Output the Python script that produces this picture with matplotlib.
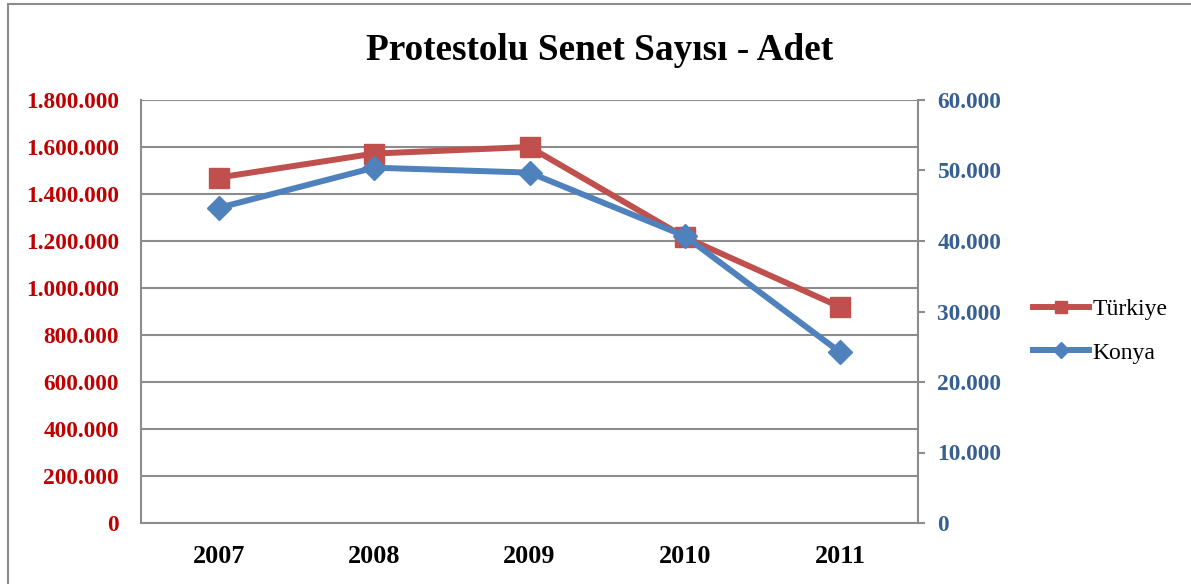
import matplotlib
matplotlib.use("Agg")
import matplotlib.pyplot as plt
from matplotlib.patches import Rectangle
from matplotlib.ticker import FuncFormatter, MultipleLocator

# Protested promissory notes, counts per year
years = ["2007", "2008", "2009", "2010", "2011"]
turkiye = [1470000, 1572000, 1600000, 1216000, 919000]
konya = [44700, 50400, 49700, 40700, 24200]

title = "Protestolu Senet Sayısı - Adet"
series_names = ["Türkiye", "Konya"]

RED_LINE = "#C0504D"
BLUE_LINE = "#4F81BD"
RED_TEXT = "#C00000"
BLUE_TEXT = "#376092"
GRID = "#8C8C8C"

plt.rcParams["font.family"] = ["Liberation Serif", "DejaVu Serif"]


def dotted(v, _pos=None):
    return f"{int(round(v)):,}".replace(",", ".")


fig = plt.figure(figsize=(11.91, 5.84), dpi=100)
W, H = 1191, 584
ax = fig.add_axes([141 / W, 1 - 523 / H, (918 - 141) / W, (523 - 100) / H])
ax2 = ax.twinx()

x = list(range(len(years)))
ax.plot(x, turkiye, color=RED_LINE, lw=4.3, marker="s", ms=14,
        solid_joinstyle="round", label=series_names[0], zorder=3)
ax2.plot(x, konya, color=BLUE_LINE, lw=4.3, marker="D", ms=12,
         solid_joinstyle="round", label=series_names[1], zorder=3)

ax.set_xlim(-0.5, len(years) - 0.5)
ax.set_ylim(0, 1800000)
ax2.set_ylim(0, 60000)
ax.yaxis.set_major_locator(MultipleLocator(200000))
ax2.yaxis.set_major_locator(MultipleLocator(10000))
ax.yaxis.set_major_formatter(FuncFormatter(dotted))
ax2.yaxis.set_major_formatter(FuncFormatter(dotted))

ax.set_xticks(x)
ax.set_xticklabels(years)
ax.grid(axis="y", color=GRID, lw=1.5)
ax.set_axisbelow(True)

for a in (ax, ax2):
    a.spines["top"].set_visible(False)
    for side in ("left", "bottom", "right"):
        a.spines[side].set_color(GRID)
        a.spines[side].set_linewidth(1.5)
ax.spines["right"].set_visible(False)
ax2.spines["left"].set_visible(False)
ax2.spines["bottom"].set_visible(False)

ax.tick_params(axis="y", length=0, pad=16, labelsize=16.8, labelcolor=RED_TEXT)
ax.tick_params(axis="x", length=0, pad=16, labelsize=18.8)
ax2.tick_params(axis="y", length=5, width=1.5, color=GRID, pad=9,
                labelsize=16.8, labelcolor=BLUE_TEXT)
for lab in ax.get_yticklabels() + ax.get_xticklabels() + ax2.get_yticklabels():
    lab.set_fontweight("bold")

fig.text(600 / W, 1 - 50 / H, title, ha="center", va="center",
         fontsize=26.8, fontweight="bold")

h1, l1 = ax.get_legend_handles_labels()
h2, l2 = ax2.get_legend_handles_labels()
leg = fig.legend(h1 + h2, l1 + l2, loc="center left",
                 bbox_to_anchor=(1012 / W, 1 - 331 / H), frameon=False,
                 fontsize=17, handlelength=2.35, handletextpad=0.15,
                 labelspacing=0.95, markerscale=0.65)

# chart frame
fig.patches.append(Rectangle((8 / W, -0.05), 1.2, 1 - 4 / H + 0.05,
                             transform=fig.transFigure, fill=False,
                             edgecolor="#8C8C8C", lw=1.5))

fig.savefig("out.png", dpi=100)
